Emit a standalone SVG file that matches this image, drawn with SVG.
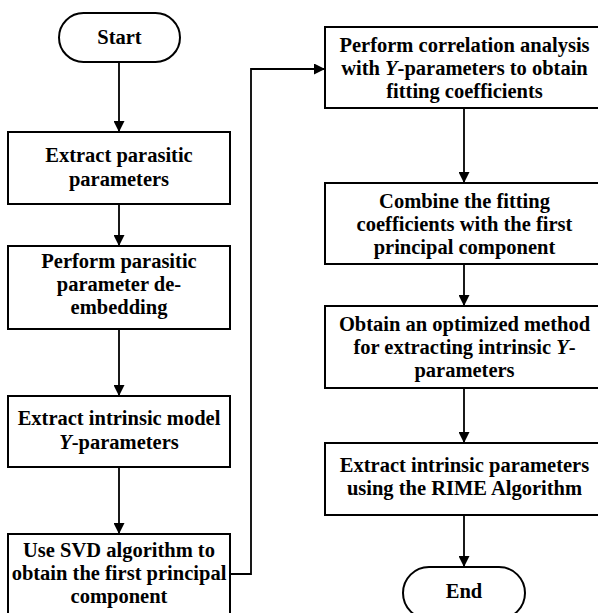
<svg xmlns="http://www.w3.org/2000/svg" width="598" height="613" viewBox="0 0 598 613">
<style>
.b{fill:#fff;stroke:#000;stroke-width:2}
.t{font-family:"Liberation Serif","Times New Roman",serif;font-weight:bold;font-size:20.5px;fill:#000;text-anchor:middle}
.c{fill:none;stroke:#000;stroke-width:1.8}
</style>
<defs>
<marker id="ah" viewBox="0 0 10 10" refX="10" refY="5" markerWidth="11" markerHeight="11" markerUnits="userSpaceOnUse" orient="auto">
<path d="M0,0 L10,5 L0,10 z" fill="#000"/>
</marker>
</defs>
<g id="connectors">
<line class="c" x1="119" y1="62" x2="119" y2="132" marker-end="url(#ah)"/>
<line class="c" x1="119" y1="204" x2="119" y2="246" marker-end="url(#ah)"/>
<line class="c" x1="119" y1="329" x2="119" y2="396" marker-end="url(#ah)"/>
<line class="c" x1="119" y1="467" x2="119" y2="534" marker-end="url(#ah)"/>
<polyline class="c" points="230,574 251,574 251,69 325,69" marker-end="url(#ah)"/>
<line class="c" x1="464" y1="108" x2="464" y2="183" marker-end="url(#ah)"/>
<line class="c" x1="464" y1="264" x2="464" y2="306" marker-end="url(#ah)"/>
<line class="c" x1="464" y1="388" x2="464" y2="443" marker-end="url(#ah)"/>
<line class="c" x1="464" y1="515" x2="464" y2="567" marker-end="url(#ah)"/>
</g>
<g id="start">
<rect class="b" x="59" y="13" width="121" height="49" rx="24.5"/>
<text class="t" x="119.5" y="44">Start</text>
</g>
<g id="n1">
<rect class="b" x="8" y="132" width="222" height="72"/>
<text class="t" x="119" y="162">Extract parasitic</text>
<text class="t" x="119" y="186">parameters</text>
</g>
<g id="n2">
<rect class="b" x="8" y="246" width="222" height="83"/>
<text class="t" x="119" y="268">Perform parasitic</text>
<text class="t" x="119" y="291">parameter de-</text>
<text class="t" x="119" y="314">embedding</text>
</g>
<g id="n3">
<rect class="b" x="8" y="396" width="222" height="71"/>
<text class="t" x="119" y="425">Extract intrinsic model</text>
<text class="t" x="119" y="449"><tspan font-style="italic">Y</tspan>-parameters</text>
</g>
<g id="n4">
<rect class="b" x="8" y="534" width="222" height="90"/>
<text class="t" x="119" y="557">Use SVD algorithm to</text>
<text class="t" x="119" y="580">obtain the first principal</text>
<text class="t" x="119" y="603">component</text>
</g>
<g id="n5">
<rect class="b" x="325" y="27" width="280" height="81"/>
<text class="t" x="464.5" y="52">Perform correlation analysis</text>
<text class="t" x="464.5" y="75">with <tspan font-style="italic">Y</tspan>-parameters to obtain</text>
<text class="t" x="464.5" y="98">fitting coefficients</text>
</g>
<g id="n6">
<rect class="b" x="325" y="183" width="280" height="81"/>
<text class="t" x="464.5" y="208">Combine the fitting</text>
<text class="t" x="464.5" y="231">coefficients with the first</text>
<text class="t" x="464.5" y="254">principal component</text>
</g>
<g id="n7">
<rect class="b" x="325" y="306" width="280" height="82"/>
<text class="t" x="464.5" y="331">Obtain an optimized method</text>
<text class="t" x="464.5" y="354">for extracting intrinsic <tspan font-style="italic">Y</tspan>-</text>
<text class="t" x="464.5" y="377">parameters</text>
</g>
<g id="n8">
<rect class="b" x="325" y="443" width="280" height="72"/>
<text class="t" x="464.5" y="472">Extract intrinsic parameters</text>
<text class="t" x="464.5" y="495">using the RIME Algorithm</text>
</g>
<g id="end">
<rect class="b" x="403" y="567" width="122" height="52" rx="26"/>
<text class="t" x="464" y="598">End</text>
</g>
</svg>
